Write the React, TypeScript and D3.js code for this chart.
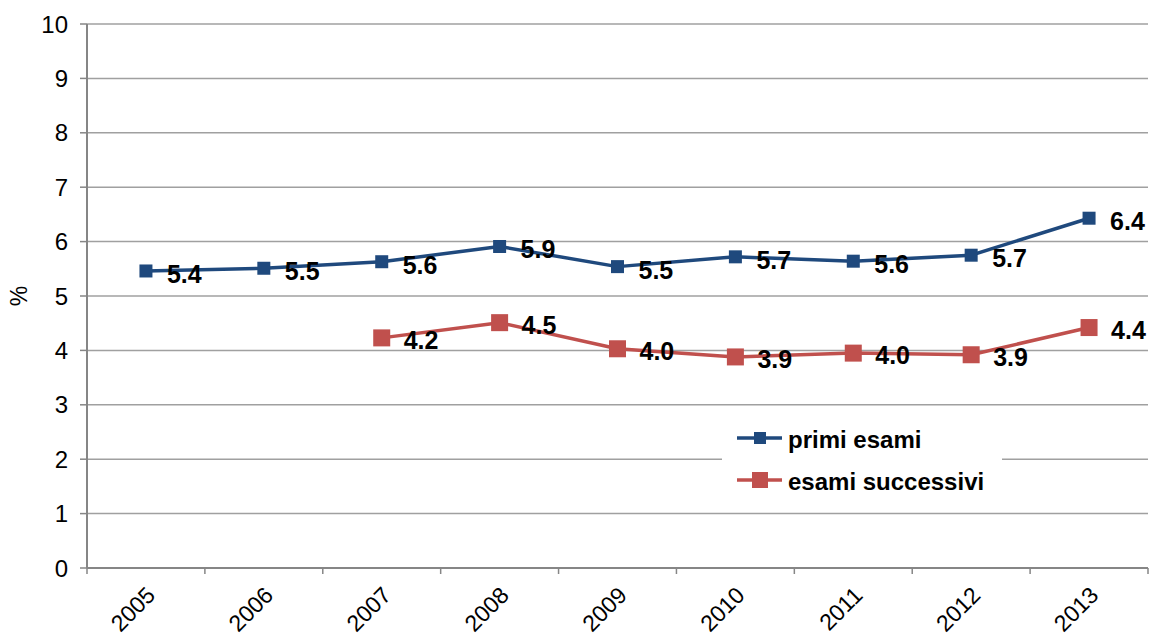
import React from "react";
import * as d3 from "d3";

const years = ["2005", "2006", "2007", "2008", "2009", "2010", "2011", "2012", "2013"];
const primiValues: (number | null)[] = [5.46, 5.51, 5.63, 5.91, 5.54, 5.72, 5.64, 5.75, 6.43];
const primiLabels = ["5.4", "5.5", "5.6", "5.9", "5.5", "5.7", "5.6", "5.7", "6.4"];
const succValues: (number | null)[] = [null, null, 4.23, 4.51, 4.03, 3.88, 3.95, 3.92, 4.42];
const succLabels = ["", "", "4.2", "4.5", "4.0", "3.9", "4.0", "3.9", "4.4"];
const yTicks = [0, 1, 2, 3, 4, 5, 6, 7, 8, 9, 10];

const W = 1150, H = 635;
const left = 87, right = 1148, top = 24, bottom = 568;
const BLUE = "#1F497D";
const RED = "#C0504D";
const FONT = "'Liberation Sans', Arial, sans-serif";

export default function App() {
  const x = d3.scaleBand().domain(years).range([left, right]).paddingInner(0).paddingOuter(0);
  const y = d3.scaleLinear().domain([0, 10]).range([bottom, top]);
  const cx = (yr: string) => (x(yr) as number) + x.bandwidth() / 2;
  const line = d3
    .line<[string, number | null]>()
    .defined((d) => d[1] !== null)
    .x((d) => cx(d[0]))
    .y((d) => y(d[1] as number));

  const primi = years.map((yr, i) => [yr, primiValues[i]] as [string, number | null]);
  const succ = years.map((yr, i) => [yr, succValues[i]] as [string, number | null]);
  const xTickPos = years.map((yr) => x(yr) as number).concat([right]);

  return (
    <svg width={W} height={H} style={{ position: "absolute", left: 0, top: 0, background: "#fff" }} fontFamily={FONT}>
      <rect width={W} height={H} fill="#fff" />
      {/* gridlines */}
      {yTicks.filter((t) => t > 0).map((t) => (
        <line key={t} x1={left} x2={right} y1={y(t)} y2={y(t)} stroke="#A0A0A0" strokeWidth={1.5} />
      ))}
      {/* y axis */}
      <line x1={left} x2={left} y1={top} y2={bottom} stroke="#868686" strokeWidth={2} />
      {yTicks.map((t) => (
        <g key={t}>
          <line x1={left - 7} x2={left} y1={y(t)} y2={y(t)} stroke="#868686" strokeWidth={1.5} />
          <text x={left - 19} y={y(t)} dy="0.36em" textAnchor="end" fontSize={24} fill="#000">
            {t}
          </text>
        </g>
      ))}
      <text transform={`translate(19,${(top + bottom) / 2}) rotate(-90)`} textAnchor="middle" fontSize={23} dy="0.36em">
        %
      </text>
      {/* x axis */}
      <line x1={left} x2={right} y1={bottom} y2={bottom} stroke="#868686" strokeWidth={2} />
      {xTickPos.map((p, i) => (
        <line key={i} x1={p} x2={p} y1={bottom} y2={bottom + 6} stroke="#868686" strokeWidth={1.5} />
      ))}
      {years.map((yr) => (
        <text
          key={yr}
          transform={`translate(${cx(yr) - 1},${bottom + 17}) rotate(-45)`}
          textAnchor="end"
          dy="0.72em"
          fontSize={23}
        >
          {yr}
        </text>
      ))}
      {/* legend background */}
      <rect x={722} y={424} width={280} height={72} fill="#fff" />
      {/* series */}
      <path d={line(primi) || ""} fill="none" stroke={BLUE} strokeWidth={3.5} strokeLinejoin="round" />
      <path d={line(succ) || ""} fill="none" stroke={RED} strokeWidth={3.5} strokeLinejoin="round" />
      {primi.map(([yr, v]) =>
        v === null ? null : (
          <rect key={"p" + yr} x={cx(yr) - 6.5} y={y(v) - 6.5} width={13} height={13} fill={BLUE} />
        )
      )}
      {succ.map(([yr, v]) =>
        v === null ? null : (
          <rect key={"s" + yr} x={cx(yr) - 8.5} y={y(v) - 8.5} width={17} height={17} fill={RED} />
        )
      )}
      {primi.map(([yr, v], i) =>
        v === null ? null : (
          <text key={"pl" + yr} x={cx(yr) + 21} y={y(v) + 3} dy="0.36em" fontSize={25} fontWeight="bold">
            {primiLabels[i]}
          </text>
        )
      )}
      {succ.map(([yr, v], i) =>
        v === null ? null : (
          <text key={"sl" + yr} x={cx(yr) + 22} y={y(v) + 2} dy="0.36em" fontSize={25} fontWeight="bold">
            {succLabels[i]}
          </text>
        )
      )}
      {/* legend */}
      <line x1={737} x2={782} y1={438} y2={438} stroke={BLUE} strokeWidth={3.5} />
      <rect x={754} y={432} width={12} height={12} fill={BLUE} />
      <text x={788} y={439} dy="0.36em" fontSize={24} fontWeight="bold">primi esami</text>
      <line x1={737} x2={782} y1={480} y2={480} stroke={RED} strokeWidth={3.5} />
      <rect x={752} y={472} width={16} height={16} fill={RED} />
      <text x={788} y={481} dy="0.36em" fontSize={24} fontWeight="bold">esami successivi</text>
    </svg>
  );
}
